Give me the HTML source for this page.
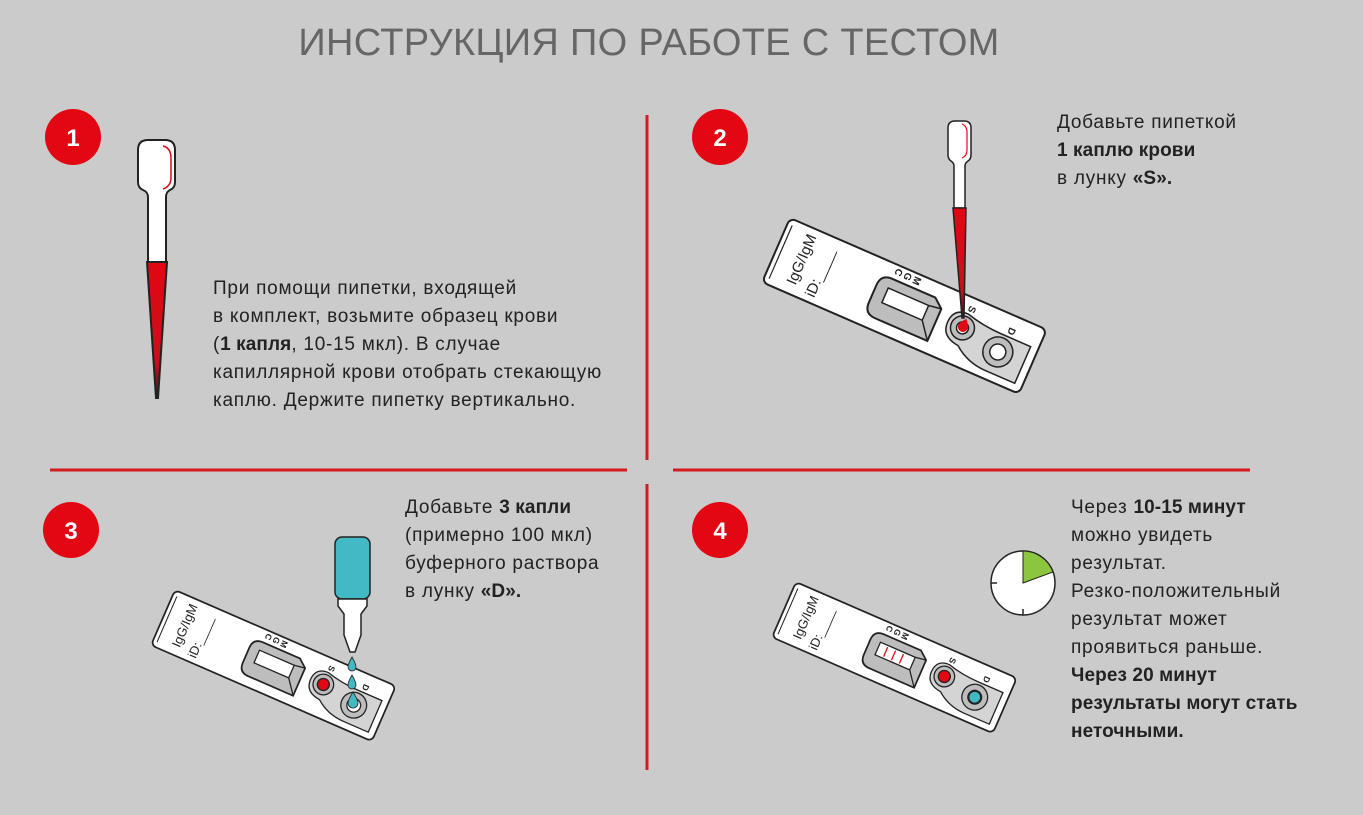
<!DOCTYPE html>
<html><head><meta charset="utf-8"><style>
html,body{margin:0;padding:0;background:#cbcbcb;}
body{width:1363px;height:815px;position:relative;overflow:hidden;font-family:"Liberation Sans",sans-serif;}
.t{position:absolute;font-size:19px;letter-spacing:0.75px;line-height:28px;color:#222;white-space:nowrap;}
b{font-weight:bold;letter-spacing:0.1px;}
h1{position:absolute;left:0;width:1298px;top:22px;margin:0;text-align:center;font-weight:normal;font-size:38px;color:#666;letter-spacing:0.3px;}
</style></head><body>
<h1>ИНСТРУКЦИЯ ПО РАБОТЕ С ТЕСТОМ</h1>
<svg width="1363" height="815" style="position:absolute;left:0;top:0">
<defs>
<linearGradient id="rg" x1="0" y1="0" x2="0" y2="1"><stop offset="0" stop-color="#e30613"/><stop offset="0.75" stop-color="#c8101a"/><stop offset="1" stop-color="#222"/></linearGradient>
<g id="cas">
<rect x="0" y="0" width="280" height="70" rx="6" fill="#fff" stroke="#222" stroke-width="2"/>
<path d="M5 6 V64" stroke="#222" stroke-width="1.2"/>
<text transform="translate(32,60) rotate(-90)" font-size="15" fill="#222">IgG/IgM</text>
<text transform="translate(54,64) rotate(-90)" font-size="15" fill="#222">iD:____</text>
<text transform="translate(118,3) rotate(90)" font-size="10" font-weight="bold" fill="#222">C</text>
<text transform="translate(128,3) rotate(90)" font-size="10" font-weight="bold" fill="#222">G</text>
<text transform="translate(138,3) rotate(90)" font-size="10" font-weight="bold" fill="#222">M</text>
<path d="M118 15 H165 L175 23 L175 58 H118 Q106 58 106 46 V27 Q106 15 118 15 Z" fill="#bdbdbd" stroke="#222" stroke-width="2"/>
<rect x="118" y="25" width="44" height="16" fill="#fff" stroke="#222" stroke-width="1.5"/>
<path d="M162 25 L175 23 M162 41 L175 58" stroke="#222" stroke-width="1.5"/>
<text transform="translate(200,8) rotate(90)" font-size="10" font-weight="bold" fill="#222">S</text>
<text transform="translate(245,12) rotate(90)" font-size="10" font-weight="bold" fill="#222">D</text>
<path d="M202 17 Q220 22 240 22 H272 V62 H240 Q220 62 205 50 Q186 48 186 33 Q186 17 202 17 Z" fill="#d4d4d4" stroke="#222" stroke-width="1.5"/>
<circle cx="202" cy="32" r="12" fill="#bdbdbd" stroke="#222" stroke-width="1.5"/>
<circle cx="244" cy="40" r="15" fill="#bdbdbd" stroke="#222" stroke-width="1.5"/>
<circle cx="244" cy="40" r="8" fill="#fff" stroke="#222" stroke-width="1.5"/>
</g>
</defs>
<g stroke="#d71920" stroke-width="3">
<line x1="647" y1="115" x2="647" y2="460"/><line x1="647" y1="484" x2="647" y2="770"/>
<line x1="50" y1="470" x2="627" y2="470"/><line x1="673" y1="470" x2="1250" y2="470"/>
</g>
<g fill="#e30613">
<circle cx="73" cy="137" r="28"/><circle cx="720" cy="137" r="28"/>
<circle cx="71" cy="530" r="28"/><circle cx="720" cy="530" r="28"/>
</g>
<g fill="#fff" font-size="24" font-weight="bold" text-anchor="middle" font-family="Liberation Sans">
<text x="73" y="146">1</text><text x="720" y="146">2</text><text x="71" y="539">3</text><text x="720" y="539">4</text>
</g>
<g stroke="#222" stroke-width="2">
<path d="M148 262 V197 Q148 192 143 190 Q138 188 138 182 V150 Q138 140 148 140 H165 Q175 140 175 150 V182 Q175 188 170 190 Q166 192 166 197 V262 Z" fill="#fff"/>
<path d="M147 262 H167 L158 398 H156 Z" fill="url(#rg)"/>
</g>
<path d="M163 146 Q171 148 171 158 V178 Q171 186 163 189" fill="none" stroke="#e30613" stroke-width="1.5"/>
<g transform="translate(790,218) rotate(23.5)">
<use href="#cas"/>
<circle cx="202" cy="32" r="6" fill="#fff" stroke="#222" stroke-width="1.5"/>
<path d="M202 22 Q207 28 207 31 A5 5 0 0 1 197 31 Q197 28 202 22 Z" fill="#e30613"/>
</g>
<g stroke="#222" stroke-width="1.5">
<path d="M954 208 V166 Q954 163 951 161 Q948 159 948 155 V128 Q948 121 955 121 H964 Q971 121 971 128 V155 Q971 159 968 161 Q965 163 965 166 V208 Z" fill="#fff"/>
<path d="M953 208 H966 L964 318 H962 Z" fill="url(#rg)"/>
</g>
<path d="M962 124 Q967 126 967 132 V150 Q967 156 962 158" fill="none" stroke="#e30613" stroke-width="1.2"/>
<g transform="translate(175,590) rotate(23.5) scale(0.86)">
<use href="#cas"/>
<circle cx="202" cy="32" r="7" fill="#e30613" stroke="#222" stroke-width="1.5"/>
</g>
<rect x="335" y="537" width="35" height="62" rx="7" fill="#43b9c5" stroke="#222" stroke-width="1.5"/>
<path d="M338 599 H367 V606 L361 614 V635 L355 652 H350 L344 635 V614 L338 606 Z" fill="#fff" stroke="#222" stroke-width="1.5"/>
<g fill="#43b9c5" stroke="#222" stroke-width="0.8">
<path d="M352 657 Q356 664 356 667 A4 4 0 0 1 348 667 Q348 664 352 657 Z"/>
<path d="M352 675 Q356 682 356 685 A4 4 0 0 1 348 685 Q348 682 352 675 Z"/>
<path d="M353 692 Q358 700 358 703 A5 5 0 0 1 348 703 Q348 700 353 692 Z"/>
</g>
<g transform="translate(796,582) rotate(23.5) scale(0.86)">
<use href="#cas"/>
<circle cx="202" cy="32" r="7" fill="#e30613" stroke="#222" stroke-width="1.5"/>
<circle cx="244" cy="40" r="7" fill="#43b9c5" stroke="#222" stroke-width="1.5"/>
<g stroke="#e30613" stroke-width="1.5"><line x1="128" y1="27" x2="128" y2="39"/><line x1="138" y1="27" x2="138" y2="39"/><line x1="148" y1="27" x2="148" y2="39"/></g>
</g>
<circle cx="1023" cy="583" r="32" fill="#fff" stroke="#222" stroke-width="1.5"/>
<path d="M1023 583 V551 A32 32 0 0 1 1053 572 Z" fill="#8cc63f" stroke="#222" stroke-width="1"/>
<g stroke="#222" stroke-width="1.5"><line x1="991" y1="583" x2="997" y2="583"/><line x1="1023" y1="615" x2="1023" y2="609"/></g>
</svg>
<div class="t" style="left:213px;top:275px">При помощи пипетки, входящей<br>в комплект, возьмите образец крови<br>(<b>1 капля</b>, 10-15 мкл). В случае<br>капиллярной крови отобрать стекающую<br>каплю. Держите пипетку вертикально.</div>
<div class="t" style="left:1057px;top:109px">Добавьте пипеткой<br><b>1 каплю крови</b><br>в лунку <b>«S».</b></div>
<div class="t" style="left:405px;top:494px">Добавьте <b>3 капли</b><br>(примерно 100 мкл)<br>буферного раствора<br>в лунку <b>«D».</b></div>
<div class="t" style="left:1071px;top:494px">Через <b>10-15 минут</b><br>можно увидеть<br>результат.<br>Резко-положительный<br>результат может<br>проявиться раньше.<br><b>Через 20 минут<br>результаты могут стать<br>неточными.</b></div>
</body></html>
